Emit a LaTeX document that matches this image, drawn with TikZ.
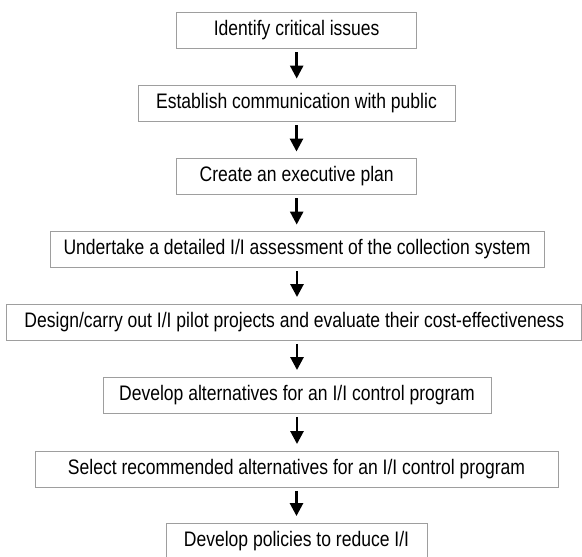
\documentclass[tikz,border=0pt]{standalone}
\usepackage{fontspec}
\setmainfont{Liberation Sans}[FakeStretch=0.835]
\usetikzlibrary{arrows.meta}
\begin{document}
\begin{tikzpicture}[x=1pt,y=-1pt,
  stepbox/.style={draw=black!38, line width=0.9pt, fill=white, minimum height=36pt,
    inner sep=0pt, font=\fontsize{21}{24}\selectfont},
  flow/.style={line width=2.7pt, -{Triangle[width=13pt,length=13pt]},
    shorten <=3.5pt, shorten >=6.5pt}]
\useasboundingbox (0,0) rectangle (582,557);
\fill[white] (0,0) rectangle (582,557);
\node[stepbox, minimum width=240pt] (s1) at (296.7,30.5) {Identify critical issues};
\node[stepbox, minimum width=317pt] (s2) at (296.5,103.5) {Establish communication with public};
\node[stepbox, minimum width=240pt] (s3) at (296.7,176.5) {Create an executive plan};
\node[stepbox, minimum width=494pt] (s4) at (297,249.5) {Undertake a detailed I/I assessment of the collection system};
\node[stepbox, minimum width=575pt] (s5) at (294.3,322) {Design/carry out I/I pilot projects and evaluate their cost-effectiveness};
\node[stepbox, minimum width=388pt] (s6) at (297,395) {Develop alternatives for an I/I control program};
\node[stepbox, minimum width=523pt] (s7) at (296.5,469) {Select recommended alternatives for an I/I control program};
\node[stepbox, minimum width=261pt] (s8) at (296.5,541) {Develop policies to reduce I/I};
\draw[flow] (s1.south) -- (s1.south |- s2.north);
\draw[flow] (s2.south) -- (s2.south |- s3.north);
\draw[flow] (s3.south) -- (s3.south |- s4.north);
\draw[flow] (s4.south) -- (s4.south |- s5.north);
\draw[flow] (s6.north |- s5.south) -- (s6.north);
\draw[flow] (s6.south) -- (s6.south |- s7.north);
\draw[flow] (s7.south) -- (s7.south |- s8.north);
\end{tikzpicture}
\end{document}
